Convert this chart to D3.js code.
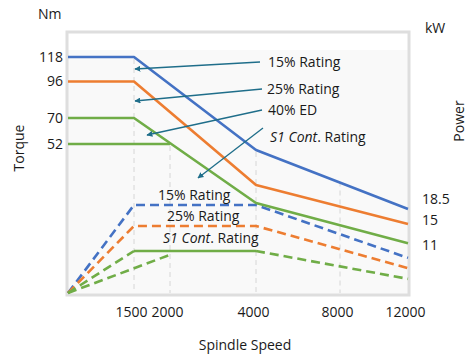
<!DOCTYPE html>
<html>
<head>
<meta charset="utf-8">
<script src="https://cdn.jsdelivr.net/npm/d3@7/dist/d3.min.js"></script>
<style>
  html, body { margin: 0; padding: 0; background: #fff; }
  svg { display: block; }
  text { font-family: "Open Sans", "Liberation Sans", sans-serif; fill: #1a1a1a; }
</style>
</head>
<body>
<svg id="chart" width="468" height="356"></svg>
<script>
// ---------- DATA ----------
const speedTicks = [1500, 2000, 4000, 8000, 12000];
const torqueTicks = [52, 70, 96, 118];
const powerTicks = [11, 15, 18.5];
const gridSpeeds = [1500, 2000, 4000, 8000];
const gridTopTorque = [118, 52, 49.9, 39.6];

// Torque curves (speed, Nm)
const torqueSpeeds = [0, 1500, 4000, 12000];
const torque15 = [118, 118, 49.9, 29.3];
const torque25 = [96, 96, 37.7, 24.1];
const torque40 = [70, 70, 31.4, 17.4];
const torqueS1Speeds = [0, 2000];
const torqueS1 = [52, 52];

// Power curves (speed, kW)
const powerSpeeds = [0, 1500, 4000, 12000];
const power15 = [0, 18.5, 18.5, 9.2];
const power25 = [0, 15, 15, 6.5];
const powerS1 = [0, 11, 11, 3.7];
const powerS1bSpeeds = [0, 2000];
const powerS1b = [0, 10];

// Annotation texts
const topLabels = ["15% Rating", "25% Rating", "40% ED", "S1 Cont. Rating"];
const bottomLabels = ["15% Rating", "25% Rating", "S1 Cont. Rating"];

// ---------- LAYOUT ----------
const W = 468, H = 356;
const plot = { left: 67, top: 32, right: 409, bottom: 295 };
const colors = { blue: "#4472C4", orange: "#ED7D31", green: "#70AD47", arrow: "#1F6E8A" };

const svg = d3.select("#chart");

const x = d3.scaleLinear().domain([0, 1500, 2000, 4000, 8000, 12000]).range([68, 134, 170, 256, 340, 408]);
const yT = d3.scaleLinear().domain([0, 52, 70, 96, 118]).range([293, 144, 118, 81.5, 57]);
const yP = d3.scaleLinear().domain([0, 11, 15, 18.5]).range([293, 251, 226, 205]);

// frame
svg.append("rect").attr("x", plot.left).attr("y", plot.top)
  .attr("width", plot.right - plot.left).attr("height", plot.bottom - plot.top)
  .attr("fill", "#f9f9f9");
svg.append("rect").attr("x", plot.left).attr("y", plot.top)
  .attr("width", plot.right - plot.left).attr("height", 18)
  .attr("fill", "#ffffff");
svg.append("rect").attr("x", plot.left).attr("y", plot.top)
  .attr("width", plot.right - plot.left).attr("height", plot.bottom - plot.top)
  .attr("fill", "none").attr("stroke", "#dedede").attr("stroke-width", 3);

// gridlines
svg.append("g").selectAll("line").data(gridSpeeds).join("line")
  .attr("x1", d => x(d)).attr("x2", d => x(d))
  .attr("y1", (d, i) => yT(gridTopTorque[i]) + 2).attr("y2", plot.bottom - 2)
  .attr("stroke", "#d6d6d6").attr("stroke-width", 1).attr("stroke-dasharray", "5,4");

const zip = (xs, ys) => xs.map((s, i) => [s, ys[i]]);
const lineT = d3.line().x(d => x(d[0])).y(d => yT(d[1]));
const lineP = d3.line().x(d => x(d[0])).y(d => yP(d[1]));

function path(gen, pts, color, dash) {
  svg.append("path").attr("d", gen(pts)).attr("fill", "none")
    .attr("stroke", color).attr("stroke-width", 2.6)
    .attr("stroke-linejoin", "round")
    .attr("stroke-dasharray", dash || null);
}
const DASH = "9,5";

// power curves
const p15 = zip(powerSpeeds, power15), p25 = zip(powerSpeeds, power25), pS1 = zip(powerSpeeds, powerS1);
path(lineP, p15, colors.blue, DASH);
path(lineP, p25, colors.orange, DASH);
path(lineP, zip(powerS1bSpeeds, powerS1b), colors.green, DASH);
path(lineP, pS1.slice(0, 2), colors.green, DASH);
path(lineP, pS1.slice(1, 3), colors.green);
path(lineP, pS1.slice(2, 4), colors.green, DASH);

// torque curves
path(lineT, zip(torqueSpeeds, torque15), colors.blue);
path(lineT, zip(torqueSpeeds, torque25), colors.orange);
path(lineT, zip(torqueSpeeds, torque40), colors.green);
path(lineT, zip(torqueS1Speeds, torqueS1), colors.green);

// axes
const fs = "14px";
const bottomAxis = svg.append("g").attr("transform", `translate(-3,${plot.bottom + 2})`)
  .call(d3.axisBottom(x).tickValues(speedTicks).tickSize(0).tickPadding(10).tickFormat(d3.format("d")));
const leftAxis = svg.append("g").attr("transform", `translate(${plot.left},0)`)
  .call(d3.axisLeft(yT).tickValues(torqueTicks).tickSize(0).tickPadding(4).tickFormat(d3.format("d")));
const rightAxis = svg.append("g").attr("transform", `translate(${plot.right + 2},-6)`)
  .call(d3.axisRight(yP).tickValues(powerTicks).tickSize(0).tickPadding(11).tickFormat(d => String(d)));
[bottomAxis, leftAxis, rightAxis].forEach(g => {
  g.select(".domain").remove();
  g.selectAll("text").attr("font-size", fs).attr("font-family", "'Open Sans', 'Liberation Sans', sans-serif").attr("fill", "#1a1a1a");
});

// axis titles
svg.append("text").attr("x", 38).attr("y", 19).attr("font-size", fs).text("Nm");
svg.append("text").attr("x", 425).attr("y", 33).attr("font-size", fs).text("kW");
svg.append("text").attr("transform", "translate(24,148) rotate(-90)").attr("text-anchor", "middle").attr("font-size", fs).text("Torque");
svg.append("text").attr("transform", "translate(464,121) rotate(-90)").attr("text-anchor", "middle").attr("font-size", fs).text("Power");
svg.append("text").attr("x", 245).attr("y", 350).attr("text-anchor", "middle").attr("font-size", fs).text("Spindle Speed");

// arrow marker
svg.append("defs").append("marker").attr("id", "ah")
  .attr("viewBox", "0 0 10 10").attr("refX", 9).attr("refY", 5)
  .attr("markerWidth", 6).attr("markerHeight", 6).attr("markerUnits", "userSpaceOnUse")
  .attr("orient", "auto")
  .append("path").attr("d", "M0,0 L10,5 L0,10 z").attr("fill", colors.arrow);

// annotations (label position, arrow start, arrow tip)
const topLayout = [
  { tx: 268, ty: 67, from: [260, 62], to: [135, 69] },
  { tx: 267, ty: 94, from: [262, 89], to: [135, 101] },
  { tx: 268, ty: 115, from: [262, 110], to: [147, 135] },
  { tx: 270, ty: 142, from: [263, 128], to: [198, 178] }
];
const bottomLayout = [
  { tx: 158, ty: 200 }, { tx: 167, ty: 221 }, { tx: 163, ty: 243 }
];

function labelText(sel, s) {
  if (s.startsWith("S1 Cont")) {
    sel.append("tspan").attr("font-style", "italic").text("S1 Cont");
    sel.append("tspan").text(s.slice(7));
  } else sel.text(s);
}

topLabels.forEach((s, i) => {
  const L = topLayout[i];
  svg.append("line").attr("x1", L.from[0]).attr("y1", L.from[1]).attr("x2", L.to[0]).attr("y2", L.to[1])
    .attr("stroke", colors.arrow).attr("stroke-width", 1.3).attr("marker-end", "url(#ah)");
  labelText(svg.append("text").attr("x", L.tx).attr("y", L.ty).attr("font-size", fs), s);
});
bottomLabels.forEach((s, i) => {
  const L = bottomLayout[i];
  labelText(svg.append("text").attr("x", L.tx).attr("y", L.ty).attr("font-size", fs), s);
});
</script>
</body>
</html>
